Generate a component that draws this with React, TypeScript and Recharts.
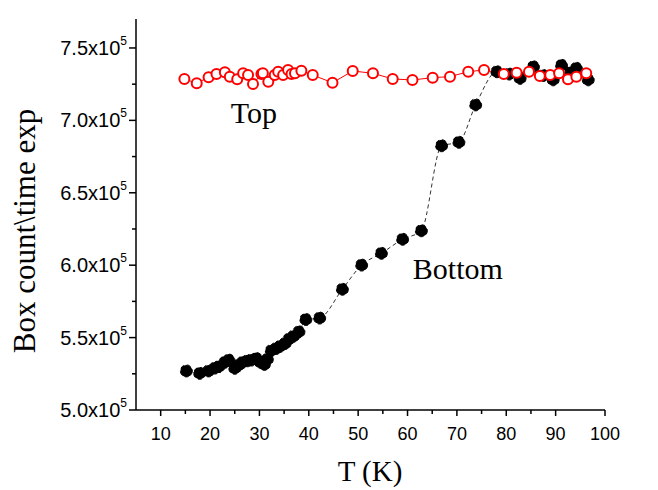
import { LineChart, Line, XAxis, YAxis, ReferenceDot, Label } from 'recharts';

// T (K) and counts for the "Top" series (open red circles)
const topT = [
  14.8, 17.3, 19.7, 21.3, 23.0, 24.0, 25.5, 26.7, 27.7, 28.7, 30.4, 30.7, 31.8, 33.1, 33.8, 34.8,
  35.8, 36.5, 37.2, 38.5, 40.8, 44.8, 48.9, 53.0, 57.0, 61.0, 65.1, 68.6, 72.3, 75.5, 79.5, 82.1,
  84.6, 86.8, 88.9, 90.7, 92.5, 94.2, 96.2,
];
const topCounts = [
  728600, 725600, 729800, 732000, 733200, 730200, 728400, 732500, 731300, 725100, 732000, 732500,
  726700, 731300, 733600, 731300, 734800, 732000, 732500, 734300, 731300, 726000, 734100, 732500,
  728600, 727900, 729500, 730200, 733600, 734800, 732000, 732900, 733600, 730600, 731300, 732500,
  728400, 730200, 732500,
];

// T (K) and counts for the "Bottom" series (filled black circles)
const bottomT = [
  15.2, 17.9, 19.7, 21.0, 21.8, 23.0, 23.8, 25.0, 25.8, 26.6, 27.6, 28.4, 29.4, 30.2, 31.0, 31.6,
  32.4, 33.4, 34.2, 35.2, 36.0, 36.9, 38.0, 39.4, 42.2, 46.8, 50.7, 54.7, 59.0, 62.8, 66.9, 70.4,
  73.8, 78.1, 80.6, 82.8, 85.5, 87.5, 89.5, 91.2, 93.0, 94.2, 96.6,
];
const bottomCounts = [
  527000, 525300, 527000, 529000, 530000, 533000, 534500, 528800, 531000, 533000, 534000, 534500,
  535500, 533000, 531500, 535000, 541000, 542500, 544000, 546000, 549000, 551000, 554000, 562500,
  563500, 583400, 600100, 608200, 617900, 623800, 682500, 684900, 710700, 733600, 732000, 729000,
  737000, 731000, 728000, 738000, 733000, 736000, 728000,
];

const xTicks = [10, 15, 20, 25, 30, 35, 40, 45, 50, 55, 60, 65, 70, 75, 80, 85, 90, 95, 100];
const yTicks = [500000, 525000, 550000, 575000, 600000, 625000, 650000, 675000, 700000, 725000, 750000];

const topData = topT.map((t, i) => ({ t, v: topCounts[i] }));
const bottomData = bottomT.map((t, i) => ({ t, v: bottomCounts[i] }));

const SANS = '"Liberation Sans", Arial, sans-serif';
const SERIF = '"Liberation Serif", "Times New Roman", serif';

const XTick = ({ x, y, payload }: any) => {
  const major = payload.value % 10 === 0;
  return (
    <g>
      <line x1={x} x2={x} y1={y} y2={y + (major ? 6 : 4)} stroke="#000" strokeWidth={1.5} />
      {major && (
        <text x={x} y={y + 30} textAnchor="middle" fontFamily={SANS} fontSize={18} fill="#000">
          {payload.value}
        </text>
      )}
    </g>
  );
};

const YTick = ({ x, y, payload }: any) => {
  const major = payload.value % 50000 === 0;
  return (
    <g>
      <line x1={x} x2={x - (major ? 7 : 4)} y1={y} y2={y} stroke="#000" strokeWidth={1.5} />
      {major && (
        <text x={x - 9} y={y + 7} textAnchor="end" fontFamily={SANS} fontSize={20} fill="#000">
          {(payload.value / 100000).toFixed(1)}x10
          <tspan dy={-10} fontSize={12}>5</tspan>
        </text>
      )}
    </g>
  );
};

export default function App() {
  return (
    <div style={{ position: 'absolute', left: 0, top: 0, background: '#fff' }}>
      <LineChart width={658} height={490} margin={{ top: 19, right: 53, bottom: 20, left: 0 }}>
        <XAxis
          type="number"
          dataKey="t"
          domain={[5, 100]}
          ticks={xTicks}
          allowDataOverflow
          height={60}
          tickSize={0}
          tickMargin={0}
          tickLine={false}
          tick={<XTick />}
          axisLine={{ stroke: '#000', strokeWidth: 1.5 }}
        >
          <Label
            content={() => (
              <text x={370} y={481} textAnchor="middle" fontFamily={SERIF} fontSize={29} fill="#000">
                T (K)
              </text>
            )}
          />
        </XAxis>
        <YAxis
          type="number"
          dataKey="v"
          domain={[500000, 770000]}
          ticks={yTicks}
          allowDataOverflow
          width={136}
          tickSize={0}
          tickMargin={0}
          tickLine={false}
          tick={<YTick />}
          axisLine={{ stroke: '#000', strokeWidth: 1.5 }}
        >
          <Label
            content={() => (
              <text
                x={35}
                y={231}
                transform="rotate(-90 35 231)"
                textAnchor="middle"
                fontFamily={SERIF}
                fontSize={31}
                fill="#000"
              >
                Box count\time exp
              </text>
            )}
          />
        </YAxis>
        <Line
          data={bottomData}
          dataKey="v"
          type="monotone"
          stroke="#333"
          strokeWidth={1}
          strokeDasharray="4 3"
          dot={{ r: 6, fill: '#000', stroke: '#000', strokeWidth: 1 }}
          isAnimationActive={false}
        />
        <Line
          data={topData}
          dataKey="v"
          type="linear"
          stroke="#ff0000"
          strokeWidth={1}
          dot={{ r: 5, fill: '#fff', stroke: '#ff0000', strokeWidth: 2 }}
          isAnimationActive={false}
        />
        <ReferenceDot
          x={28.9}
          y={705800}
          r={0}
          stroke="none"
          label={{ value: 'Top', position: 'center', fontFamily: SERIF, fontSize: 30, fill: '#000' }}
        />
        <ReferenceDot
          x={70.2}
          y={598000}
          r={0}
          stroke="none"
          label={{ value: 'Bottom', position: 'center', fontFamily: SERIF, fontSize: 30, fill: '#000' }}
        />
      </LineChart>
    </div>
  );
}
